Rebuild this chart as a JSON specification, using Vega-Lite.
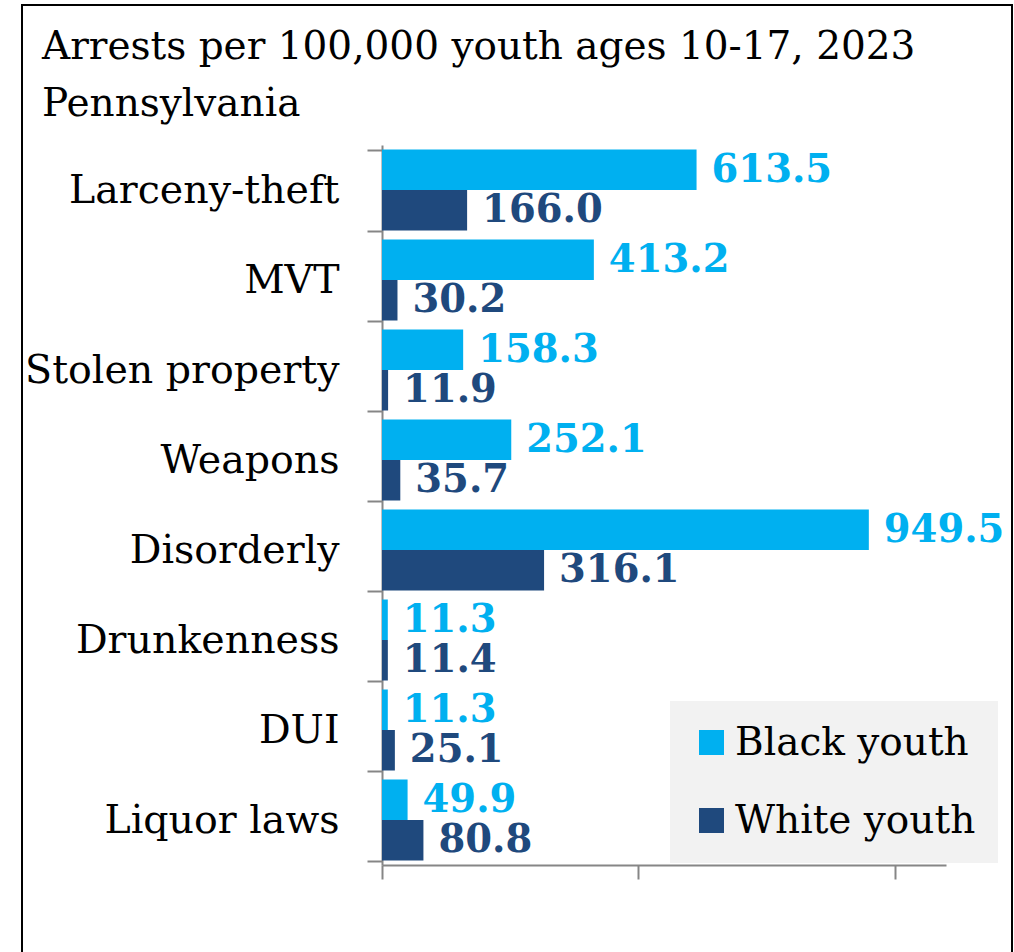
{
  "$schema": "https://vega.github.io/schema/vega-lite/v6.json",
  "autosize": {"type": "none"},
  "padding": {"left": 22, "top": 5, "right": 2, "bottom": -3},
  "width": 990,
  "height": 950,
  "background": "white",
  "title": {
    "text": ["Arrests per 100,000 youth ages 10-17, 2023", "Pennsylvania"],
    "anchor": "start",
    "frame": "group",
    "font": "DejaVu Serif",
    "fontSize": 39,
    "fontWeight": "normal",
    "color": "black",
    "lineHeight": 57,
    "baseline": "bottom",
    "dx": 20,
    "offset": -178
  },
  "config": {
    "view": {"stroke": "black", "strokeWidth": 2},
    "font": "DejaVu Serif"
  },
  "data": {
    "values": [
      {"offense": "Larceny-theft", "group": "Black youth", "rate": 613.5},
      {"offense": "Larceny-theft", "group": "White youth", "rate": 166.0},
      {"offense": "MVT", "group": "Black youth", "rate": 413.2},
      {"offense": "MVT", "group": "White youth", "rate": 30.2},
      {"offense": "Stolen property", "group": "Black youth", "rate": 158.3},
      {"offense": "Stolen property", "group": "White youth", "rate": 11.9},
      {"offense": "Weapons", "group": "Black youth", "rate": 252.1},
      {"offense": "Weapons", "group": "White youth", "rate": 35.7},
      {"offense": "Disorderly", "group": "Black youth", "rate": 949.5},
      {"offense": "Disorderly", "group": "White youth", "rate": 316.1},
      {"offense": "Drunkenness", "group": "Black youth", "rate": 11.3},
      {"offense": "Drunkenness", "group": "White youth", "rate": 11.4},
      {"offense": "DUI", "group": "Black youth", "rate": 11.3},
      {"offense": "DUI", "group": "White youth", "rate": 25.1},
      {"offense": "Liquor laws", "group": "Black youth", "rate": 49.9},
      {"offense": "Liquor laws", "group": "White youth", "rate": 80.8}
    ]
  },
  "encoding": {
    "y": {
      "field": "offense",
      "type": "nominal",
      "sort": null,
      "scale": {"range": [140, 860], "paddingInner": 0.1, "paddingOuter": 0.05},
      "axis": {
        "title": null,
        "offset": -360,
        "tickBand": "extent",
        "domainColor": "#868686",
        "domainWidth": 2,
        "tickColor": "#868686",
        "tickWidth": 2,
        "tickSize": 15,
        "labelFont": "DejaVu Serif",
        "labelFontSize": 39.5,
        "labelColor": "black",
        "labelPadding": 28,
        "labelLimit": 400
      }
    },
    "yOffset": {"field": "group", "type": "nominal", "sort": ["Black youth", "White youth"]},
    "x": {
      "field": "rate",
      "type": "quantitative",
      "scale": {"domain": [0, 1100], "range": [360, 924], "nice": false, "zero": true},
      "axis": {
        "title": null,
        "offset": -90,
        "values": [0, 500, 1000],
        "labels": false,
        "grid": false,
        "domainColor": "#868686",
        "domainWidth": 2,
        "tickColor": "#868686",
        "tickWidth": 2,
        "tickSize": 14
      }
    },
    "color": {
      "field": "group",
      "type": "nominal",
      "scale": {"domain": ["Black youth", "White youth"], "range": ["#00B0F0", "#1F497D"]},
      "legend": {
        "title": null,
        "orient": "none",
        "legendX": 648,
        "legendY": 696,
        "fillColor": "#F2F2F2",
        "padding": 22,
        "symbolType": "square",
        "symbolSize": 625,
        "symbolStrokeWidth": 0,
        "labelFont": "DejaVu Serif",
        "labelFontSize": 39,
        "labelColor": "black",
        "labelOffset": 4,
        "labelLimit": 400,
        "rowPadding": 38
      }
    }
  },
  "layer": [
    {"mark": {"type": "bar"}},
    {
      "mark": {
        "type": "text",
        "align": "left",
        "baseline": "middle",
        "dx": 15,
        "font": "DejaVu Serif",
        "fontWeight": "bold",
        "fontSize": 38.5
      },
      "encoding": {"text": {"field": "rate", "type": "quantitative", "format": ".1f"}}
    }
  ]
}
